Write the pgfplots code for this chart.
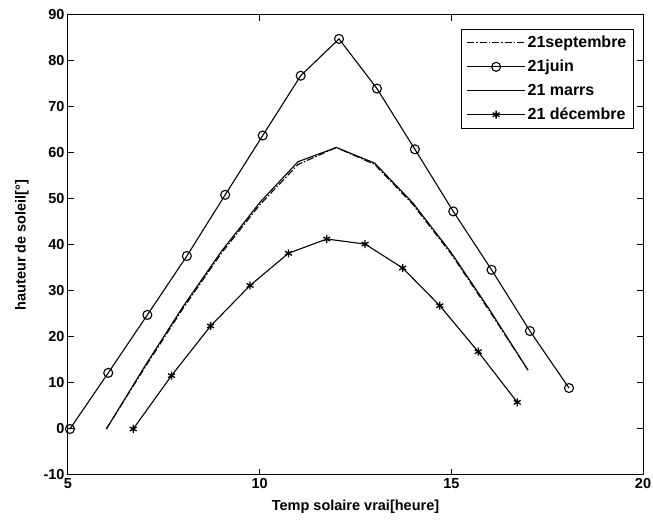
\documentclass[border=0pt]{standalone}
\usepackage{pgfplots}
\pgfplotsset{compat=1.18}
\usepackage{fontspec}
\setmainfont{Liberation Sans}
\begin{document}
\begin{tikzpicture}
\begin{axis}[name=a, scale only axis, width=575pt, height=460pt,
  xmin=5, xmax=20, ymin=-10, ymax=90,
  xtick={5,10,15,20}, ytick={-10,0,10,20,30,40,50,60,70,80,90},
  tick align=inside, major tick length=6pt,
  axis line style={line width=1pt},
  every tick/.style={line width=1pt, black},
  font=\fontsize{14.5}{16}\selectfont\bfseries,
  /pgf/number format/assume math mode=true,
  xlabel={Temp solaire vrai[heure]},
  ylabel={hauteur de soleil[°]},
  xlabel style={yshift=-4pt},
  ylabel style={at={(ticklabel cs:0.5,8pt)}},
  legend cell align=left,
  legend style={at={(axis description cs:0.984,0.97)}, anchor=north east,
    draw=black, line width=0.8pt, inner sep=5pt, row sep=7pt,
    font=\fontsize{16}{18}\selectfont\bfseries},
  legend image code/.code={\draw[mark repeat=2,mark phase=2,#1] plot coordinates {(0pt,0pt) (29pt,0pt) (58pt,0pt)};},
]
\addplot[black, line width=1.1pt, dash pattern=on 7pt off 2pt on 1.5pt off 2pt] coordinates {
(6,0) (7,13.3) (8,26.2) (9,38.2) (10,48.7) (11,57.5) (12,61.2) (13,57.5) (14,48.8) (15,38) (16,25.6) (17,12.8)};
\addlegendentry{21septembre}
\addplot[black, line width=1.1pt, mark=o, mark size=4.5pt, mark options={solid, line width=1.1pt}] coordinates {
(5.05,0) (6.05,12.2) (7.07,24.8) (8.1,37.6) (9.1,50.9) (10.08,63.8) (11.07,76.8) (12.07,84.8) (13.06,74) (14.05,60.8) (15.05,47.3) (16.05,34.6) (17.05,21.3) (18.07,8.9)};
\addlegendentry{21juin}
\addplot[black, line width=1.1pt] coordinates {
(6,0) (7,13.6) (8,26.6) (9,38.6) (10,49.2) (11,58.1) (12,61.2) (13,57.8) (14,49.1) (15,38.3) (16,25.9) (17,12.8)};
\addlegendentry{21 marrs}
\addplot[black, line width=1.1pt, mark=asterisk, mark size=4pt, mark options={solid, line width=1.3pt}] coordinates {
(6.7,0) (7.7,11.6) (8.72,22.4) (9.75,31.2) (10.75,38.2) (11.75,41.3) (12.75,40.2) (13.73,35) (14.7,26.8) (15.7,16.8) (16.72,5.8)};
\addlegendentry{21 décembre}
\end{axis}
\pgfresetboundingbox
\path ([shift={(-68pt,-50pt)}]a.south west) rectangle ([shift={(10pt,15pt)}]a.north east);
\end{tikzpicture}
\end{document}
